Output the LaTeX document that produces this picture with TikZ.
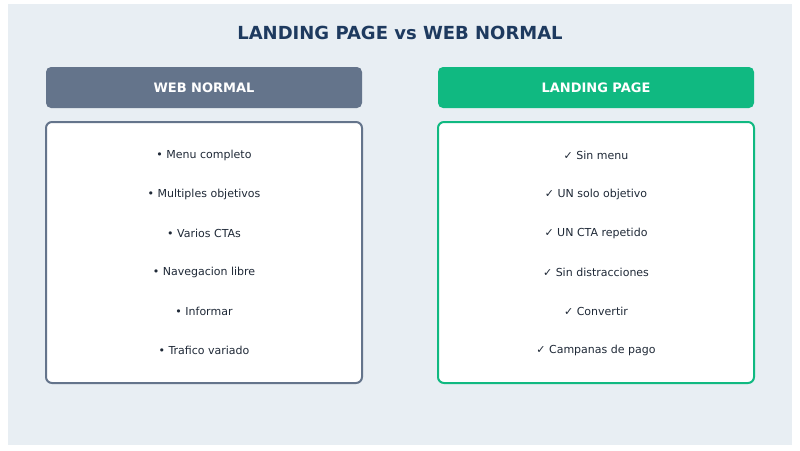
\documentclass[tikz,border=0pt]{standalone}
\usepackage{fontspec}
\setmainfont{DejaVu Sans}
\definecolor{bgc}{HTML}{E8EEF3}
\definecolor{navy}{HTML}{1E3A5F}
\definecolor{slate}{HTML}{64748B}
\definecolor{green}{HTML}{10B981}
\definecolor{txt}{HTML}{1F2937}
\begin{document}
\begin{tikzpicture}[x=1pt,y=-1pt,
  hdr/.style={rounded corners=5pt,minimum width=316pt,minimum height=41pt,text=white,font=\fontsize{13}{15}\selectfont\bfseries},
  card/.style={draw,line width=2pt,fill=white,rounded corners=6pt,minimum width=316pt,minimum height=261pt},
  item/.style={text=txt,font=\fontsize{11}{13}\selectfont}]
\useasboundingbox (0,0) rectangle (800,450);
\fill[white] (0,0) rectangle (800,450);
\fill[bgc] (8,4) rectangle (792,445);
\node[text=navy,font=\fontsize{18}{21}\selectfont\bfseries] (title) at (400,33) {LANDING PAGE vs WEB NORMAL};
\node[hdr,fill=slate] (hl) at (204,87.5) {WEB NORMAL};
\node[hdr,fill=green] (hr) at (596,87.5) {LANDING PAGE};
\node[card,draw=slate] (cl) at (204,252.5) {};
\node[card,draw=green] (cr) at (596,252.5) {};
\foreach \t [count=\i] in {Menu completo,Multiples objetivos,Varios CTAs,Navegacion libre,Informar,Trafico variado}
  \node[item] (l\i) at (204,116+39*\i) {• \t};
\foreach \t [count=\i] in {Sin menu,UN solo objetivo,UN CTA repetido,Sin distracciones,Convertir,Campanas de pago}
  \node[item] (r\i) at (596,116+39*\i) {✓ \t};
\end{tikzpicture}
\end{document}
